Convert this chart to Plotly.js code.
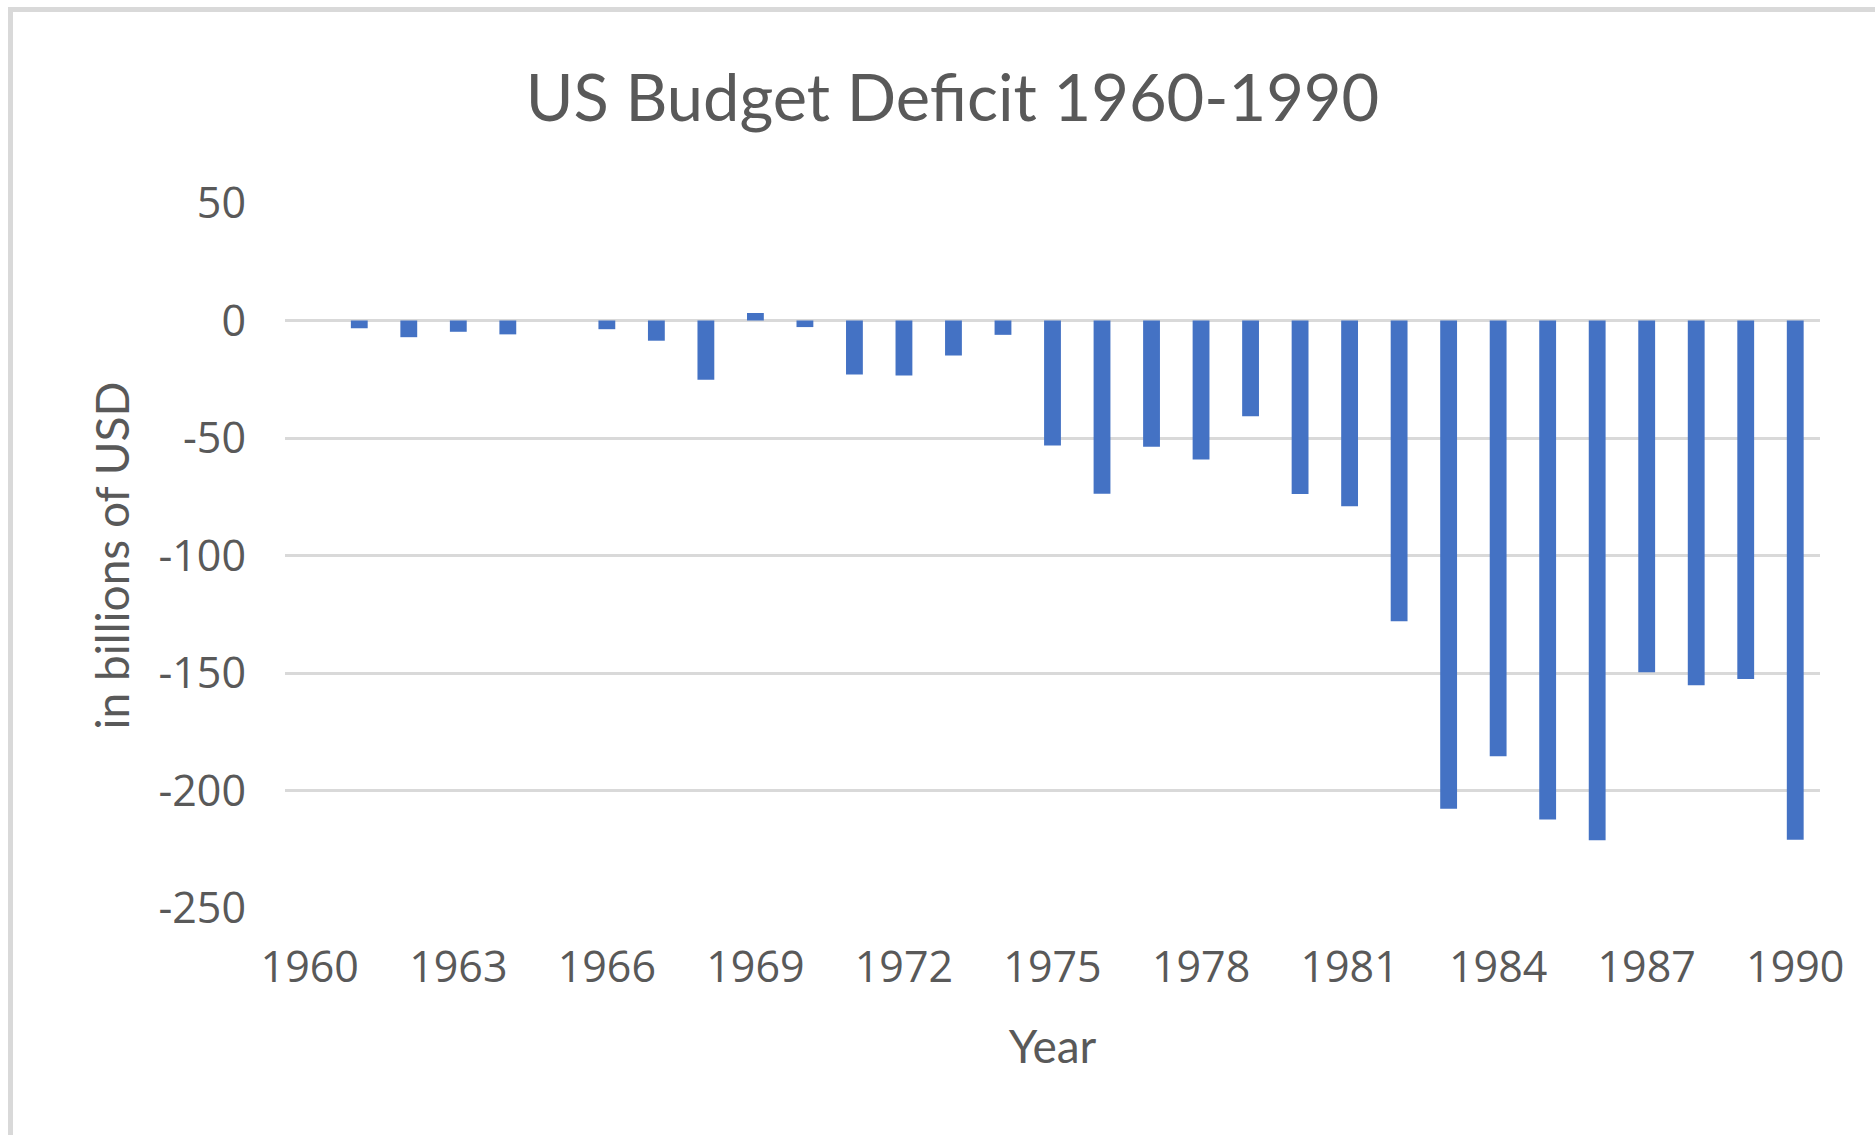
<!DOCTYPE html>
<html>
<head>
<meta charset="utf-8">
<script src="https://cdn.plot.ly/plotly-3.0.1.min.js"></script>
<style>
  html, body { margin: 0; padding: 0; background: #fff; overflow: hidden; }
  #plot { width: 1875px; height: 1135px; }
  #frame {
    position: absolute; left: 8px; top: 7px; width: 2000px; height: 2000px;
    border-left: 5px solid #d9d9d9; border-top: 5px solid #d9d9d9;
    pointer-events: none;
  }
</style>
</head>
<body>
<div id="plot"></div>
<div id="frame"></div>
<script>
// data (billions of USD, surplus positive)
const years = [1960, 1961, 1962, 1963, 1964, 1965, 1966, 1967, 1968, 1969,
               1970, 1971, 1972, 1973, 1974, 1975, 1976, 1977, 1978, 1979,
               1980, 1981, 1982, 1983, 1984, 1985, 1986, 1987, 1988, 1989, 1990];
const balance = [0, -3.3, -7.1, -4.8, -5.9, 0, -3.7, -8.6, -25.2, 3.2,
                 -2.8, -23.0, -23.4, -14.9, -6.1, -53.2, -73.7, -53.7, -59.2, -40.7,
                 -73.8, -79.0, -128.0, -207.8, -185.4, -212.3, -221.2, -149.7, -155.2, -152.6, -221.0];
const xTicks = [1960, 1963, 1966, 1969, 1972, 1975, 1978, 1981, 1984, 1987, 1990];
const yTicks = [50, 0, -50, -100, -150, -200, -250];

const textColor = '#595959';
const gridColor = '#d9d9d9';

const trace = {
    x: years, y: balance,
    type: 'bar',
    width: 0.34,
    marker: { color: '#4472c4', line: { width: 0 } },
    hoverinfo: 'x+y'
};

const layout = {
    width: 1875, height: 1135,
    margin: { l: 285, r: 55, t: 203, b: 227 },
    paper_bgcolor: '#fff', plot_bgcolor: '#fff',
    showlegend: false,
    font: { family: 'Open Sans, sans-serif', color: textColor },
    title: {
        text: 'US Budget Deficit 1960-1990',
        font: { family: 'Lato, sans-serif', size: 65, color: textColor },
        xref: 'container', yref: 'container',
        x: 0.508, y: 1 - 98 / 1135,
        xanchor: 'center', yanchor: 'middle'
    },
    xaxis: {
        range: [1959.5, 1990.5],
        tickmode: 'array', tickvals: xTicks, ticktext: xTicks.map(String),
        showgrid: false, zeroline: false, showline: false,
        ticks: '', ticklabelstandoff: 30,
        tickfont: { size: 43, color: textColor },
        title: { text: 'Year', font: { family: 'Lato, sans-serif', size: 46, color: textColor }, standoff: 36 }
    },
    yaxis: {
        range: [-250, 50],
        tickmode: 'array', tickvals: yTicks, ticktext: yTicks.map(String),
        showgrid: true, gridcolor: gridColor, gridwidth: 3,
        zeroline: true, zerolinecolor: gridColor, zerolinewidth: 3,
        showline: false, ticks: '', ticklabelstandoff: 38,
        tickfont: { size: 43, color: textColor },
        title: { text: 'in billions of USD', font: { family: 'Lato, sans-serif', size: 46, color: textColor }, standoff: 14 }
    },
    bargap: 0.66
};

Plotly.newPlot('plot', [trace], layout, { staticPlot: true, displayModeBar: false });
</script>
</body>
</html>
